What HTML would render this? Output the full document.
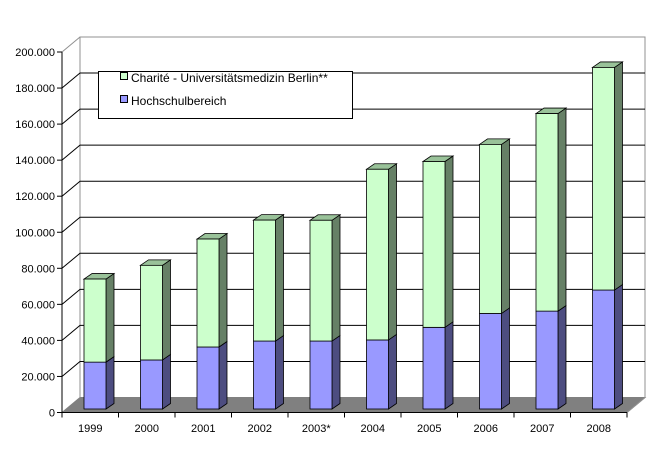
<!DOCTYPE html>
<html><head><meta charset="utf-8"><style>
html,body{margin:0;padding:0;background:#fff;}
svg{display:block;font-family:"Liberation Sans",Arial,sans-serif;}
</style></head><body>
<svg id="chart" width="656" height="449" viewBox="0 0 656 449" xmlns="http://www.w3.org/2000/svg"></svg>
<script>
const categories = ["1999","2000","2001","2002","2003*","2004","2005","2006","2007","2008"];
const hochschulValues = [26000,27200,34400,37700,37700,38300,45300,53000,54300,66000];
const chariteValues = [46100,52500,59900,67100,67000,94700,92000,93800,109600,123500];
const yTicks = [0,20000,40000,60000,80000,100000,120000,140000,160000,180000,200000];
const yTickLabels = ["0","20.000","40.000","60.000","80.000","100.000","120.000","140.000","160.000","180.000","200.000"];

const NS="http://www.w3.org/2000/svg";
const svg=document.getElementById('chart');
const X0=62, Y0=412.5, SCALE=360.5/200000, DX=18, DY=-15;
const CATW=(627-62)/categories.length;
const BAR_W=22, BAR_OFF=22, BDX=8, BDY=-5.5, BAR_BASE=409;
function yF(v){return Y0 - v*SCALE;}
function yBar(v){return BAR_BASE - v*SCALE;}
function mk(tag,attrs,parent){const e=document.createElementNS(NS,tag);for(const k in attrs)e.setAttribute(k,attrs[k]);(parent||svg).appendChild(e);return e;}

// floor
const floor=mk('polygon',{points:`${X0},${Y0} ${X0+DX},${Y0+DY} ${627+DX},${Y0+DY} 627,${Y0}`,fill:'#808080',stroke:'#808080'});


// back wall border
const wall=mk('polyline',{points:`${X0+DX},${Y0+DY} ${X0+DX},${yF(200000)+DY} ${627+DX},${yF(200000)+DY} ${627+DX},${Y0+DY} 627,${Y0}`,fill:'none',stroke:'#909090','stroke-width':1});



// gridlines + y ticks
yTicks.forEach((t,i)=>{
  const fy=yF(t);
  if(t>0 && t<200000){
    const g=mk('polyline',{points:`${X0},${fy} ${X0+DX},${fy+DY} ${627+DX},${fy+DY}`,fill:'none',stroke:'#000','stroke-width':1});
    
    
  } else if(t===200000){
    mk('line',{x1:X0,y1:fy,x2:X0+DX,y2:fy+DY,stroke:'#909090'});
  }
  mk('line',{x1:X0-5,y1:fy,x2:X0,y2:fy,stroke:'#000'});
  const lab=mk('text',{x:X0-7,y:fy+4,'text-anchor':'end','font-size':11,fill:'#000'});
  lab.textContent=yTickLabels[i];
  
  
});
mk('line',{x1:X0,y1:yF(200000),x2:X0,y2:Y0,stroke:'#000'});
mk('line',{x1:X0,y1:Y0,x2:627,y2:Y0,stroke:'#000'});

function box(x,yTop,yBot,front,side,top,name){
  const g=mk('g',{});
  
  
  mk('polygon',{points:`${x+BAR_W},${yBot} ${x+BAR_W+BDX},${yBot+BDY} ${x+BAR_W+BDX},${yTop+BDY} ${x+BAR_W},${yTop}`,fill:side,stroke:'#000','stroke-width':0.8},g);
  if(top) mk('polygon',{points:`${x},${yTop} ${x+BDX},${yTop+BDY} ${x+BAR_W+BDX},${yTop+BDY} ${x+BAR_W},${yTop}`,fill:top,stroke:'#000','stroke-width':0.8},g);
  mk('rect',{x:x,y:yTop,width:BAR_W,height:yBot-yTop,fill:front,stroke:'#000','stroke-width':0.8},g);
}
categories.forEach((c,i)=>{
  const x=X0+i*CATW+BAR_OFF;
  const h=hochschulValues[i], ch=chariteValues[i];
  box(x,yBar(h),yBar(0),'#9999ff','#4d4d80',null,'bar-hochschulbereich-'+c);
  box(x,yBar(h+ch),yBar(h),'#ccffcc','#668066','#99c299','bar-charite-'+c);
  mk('line',{x1:X0+i*CATW,y1:Y0,x2:X0+i*CATW,y2:Y0+5,stroke:'#000'});
  const t=mk('text',{x:X0+(i+0.5)*CATW,y:432,'text-anchor':'middle','font-size':11,fill:'#000'});
  t.textContent=c;
  
  
});
mk('line',{x1:627,y1:Y0,x2:627,y2:Y0+5,stroke:'#000'});

// legend
const lg=mk('g',{});


mk('rect',{x:98.5,y:71.5,width:254,height:47,fill:'#fff',stroke:'#000'},lg);
[['#ccffcc','Charité - Universitätsmedizin Berlin**',82],['#9999ff','Hochschulbereich',105]].forEach(([col,txt,y])=>{
  const e=mk('g',{},lg);
  
  
  mk('rect',{x:120.5,y:y-9.5,width:7,height:7,fill:col,stroke:'#000'},e);
  const t=mk('text',{x:131,y:y,'font-size':12,fill:'#000'},e);
  t.textContent=txt;
});
</script>
</body></html>
